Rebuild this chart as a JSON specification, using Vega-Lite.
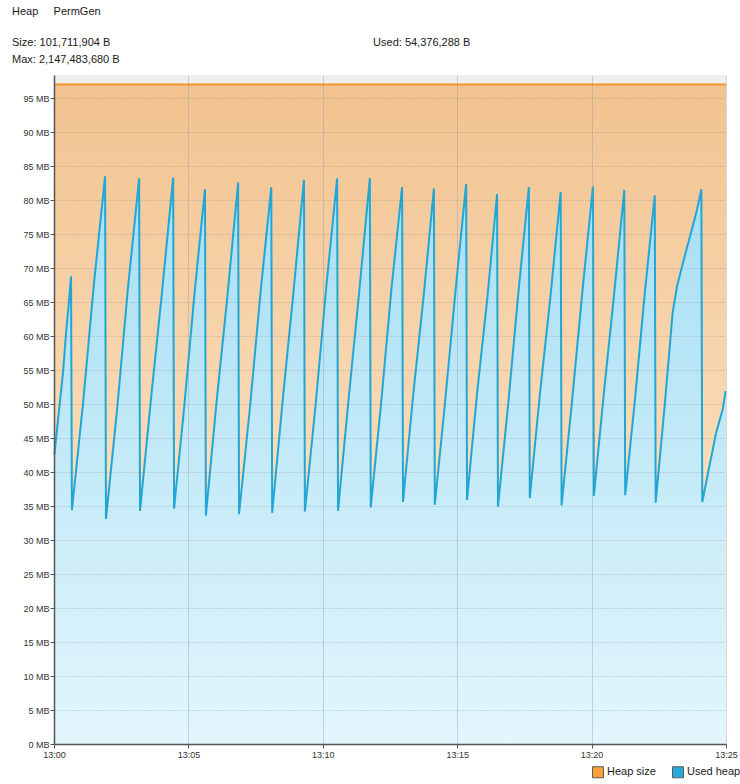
{
  "$schema": "https://vega.github.io/schema/vega-lite/v6.json",
  "background": "white",
  "padding": {"top": 6, "left": 0, "right": 0, "bottom": 0},
  "config": {
    "font": "Liberation Sans",
    "view": {"stroke": null}
  },
  "title": {
    "text": "Heap\u00a0\u00a0\u00a0\u00a0\u00a0PermGen",
    "subtitle": [
      "Size: 101,711,904 B\u00a0\u00a0\u00a0\u00a0\u00a0\u00a0\u00a0\u00a0\u00a0\u00a0\u00a0\u00a0\u00a0\u00a0\u00a0\u00a0\u00a0\u00a0\u00a0\u00a0\u00a0\u00a0\u00a0\u00a0\u00a0\u00a0\u00a0\u00a0\u00a0\u00a0\u00a0\u00a0\u00a0\u00a0\u00a0\u00a0\u00a0\u00a0\u00a0\u00a0\u00a0\u00a0\u00a0\u00a0\u00a0\u00a0\u00a0\u00a0\u00a0\u00a0\u00a0\u00a0\u00a0\u00a0\u00a0\u00a0\u00a0\u00a0\u00a0\u00a0\u00a0\u00a0\u00a0\u00a0\u00a0\u00a0\u00a0\u00a0\u00a0\u00a0\u00a0\u00a0\u00a0\u00a0\u00a0\u00a0\u00a0\u00a0\u00a0\u00a0\u00a0\u00a0\u00a0\u00a0\u00a0\u00a0Used: 54,376,288 B",
      "Max: 2,147,483,680 B"
    ],
    "anchor": "start", "frame": "bounds", "dx": 12, "offset": 10,
    "fontSize": 11, "fontWeight": "normal", "color": "#1a1a1a",
    "subtitleFontSize": 11, "subtitleColor": "#1a1a1a", "subtitleLineHeight": 17, "subtitlePadding": 20, "subtitleFont": "Liberation Sans"
  },
  "datasets": {
    "heap": [
      {"t": "2024-01-01T13:00:00", "mb": 97.0},
      {"t": "2024-01-01T13:25:00", "mb": 97.0}
    ],
    "used": [
      {"t": "2024-01-01T13:00:01", "mb": 42.6}, {"t": "2024-01-01T13:00:13", "mb": 50.2}, {"t": "2024-01-01T13:00:20", "mb": 54.5}, {"t": "2024-01-01T13:00:27", "mb": 60.5}, {"t": "2024-01-01T13:00:32", "mb": 64.0}, {"t": "2024-01-01T13:00:38", "mb": 68.8},
      {"t": "2024-01-01T13:00:40", "mb": 34.4}, {"t": "2024-01-01T13:01:05", "mb": 50.2}, {"t": "2024-01-01T13:01:29", "mb": 67.6}, {"t": "2024-01-01T13:01:54", "mb": 83.5},
      {"t": "2024-01-01T13:01:56", "mb": 33.1}, {"t": "2024-01-01T13:02:21", "mb": 49.3}, {"t": "2024-01-01T13:02:45", "mb": 67.0}, {"t": "2024-01-01T13:03:10", "mb": 83.2},
      {"t": "2024-01-01T13:03:12", "mb": 34.3}, {"t": "2024-01-01T13:03:37", "mb": 51.1}, {"t": "2024-01-01T13:04:01", "mb": 66.4}, {"t": "2024-01-01T13:04:26", "mb": 83.3},
      {"t": "2024-01-01T13:04:28", "mb": 34.6}, {"t": "2024-01-01T13:04:51", "mb": 49.8}, {"t": "2024-01-01T13:05:14", "mb": 66.5}, {"t": "2024-01-01T13:05:37", "mb": 81.6},
      {"t": "2024-01-01T13:05:39", "mb": 33.6}, {"t": "2024-01-01T13:06:03", "mb": 50.4}, {"t": "2024-01-01T13:06:27", "mb": 65.8}, {"t": "2024-01-01T13:06:51", "mb": 82.6},
      {"t": "2024-01-01T13:06:53", "mb": 33.8}, {"t": "2024-01-01T13:07:17", "mb": 49.2}, {"t": "2024-01-01T13:07:41", "mb": 66.4}, {"t": "2024-01-01T13:08:05", "mb": 81.9},
      {"t": "2024-01-01T13:08:07", "mb": 34.0}, {"t": "2024-01-01T13:08:31", "mb": 50.9}, {"t": "2024-01-01T13:08:54", "mb": 66.1}, {"t": "2024-01-01T13:09:18", "mb": 83.0},
      {"t": "2024-01-01T13:09:20", "mb": 34.2}, {"t": "2024-01-01T13:09:44", "mb": 49.9}, {"t": "2024-01-01T13:10:08", "mb": 67.4}, {"t": "2024-01-01T13:10:32", "mb": 83.2},
      {"t": "2024-01-01T13:10:34", "mb": 34.3}, {"t": "2024-01-01T13:10:58", "mb": 51.0}, {"t": "2024-01-01T13:11:21", "mb": 66.3}, {"t": "2024-01-01T13:11:45", "mb": 83.2},
      {"t": "2024-01-01T13:11:47", "mb": 34.8}, {"t": "2024-01-01T13:12:10", "mb": 50.0}, {"t": "2024-01-01T13:12:33", "mb": 66.8}, {"t": "2024-01-01T13:12:57", "mb": 81.9},
      {"t": "2024-01-01T13:12:59", "mb": 35.6}, {"t": "2024-01-01T13:13:22", "mb": 51.5}, {"t": "2024-01-01T13:13:45", "mb": 65.8}, {"t": "2024-01-01T13:14:08", "mb": 81.7},
      {"t": "2024-01-01T13:14:10", "mb": 35.2}, {"t": "2024-01-01T13:14:33", "mb": 50.3}, {"t": "2024-01-01T13:14:57", "mb": 67.2}, {"t": "2024-01-01T13:15:20", "mb": 82.4},
      {"t": "2024-01-01T13:15:22", "mb": 35.9}, {"t": "2024-01-01T13:15:44", "mb": 51.4}, {"t": "2024-01-01T13:16:07", "mb": 65.4}, {"t": "2024-01-01T13:16:29", "mb": 80.9},
      {"t": "2024-01-01T13:16:31", "mb": 34.9}, {"t": "2024-01-01T13:16:54", "mb": 50.1}, {"t": "2024-01-01T13:17:17", "mb": 66.7}, {"t": "2024-01-01T13:17:40", "mb": 81.9},
      {"t": "2024-01-01T13:17:42", "mb": 36.2}, {"t": "2024-01-01T13:18:05", "mb": 51.7}, {"t": "2024-01-01T13:18:28", "mb": 65.7}, {"t": "2024-01-01T13:18:51", "mb": 81.2},
      {"t": "2024-01-01T13:18:53", "mb": 35.1}, {"t": "2024-01-01T13:19:16", "mb": 50.2}, {"t": "2024-01-01T13:19:40", "mb": 66.9}, {"t": "2024-01-01T13:20:03", "mb": 82.0},
      {"t": "2024-01-01T13:20:05", "mb": 36.5}, {"t": "2024-01-01T13:20:28", "mb": 52.0}, {"t": "2024-01-01T13:20:50", "mb": 66.0}, {"t": "2024-01-01T13:21:13", "mb": 81.5},
      {"t": "2024-01-01T13:21:15", "mb": 36.6}, {"t": "2024-01-01T13:21:37", "mb": 50.8}, {"t": "2024-01-01T13:21:59", "mb": 66.5}, {"t": "2024-01-01T13:22:21", "mb": 80.7},
      {"t": "2024-01-01T13:22:23", "mb": 35.5}, {"t": "2024-01-01T13:22:43", "mb": 49.7}, {"t": "2024-01-01T13:23:01", "mb": 63.5}, {"t": "2024-01-01T13:23:11", "mb": 67.4}, {"t": "2024-01-01T13:23:24", "mb": 70.8}, {"t": "2024-01-01T13:23:39", "mb": 74.5}, {"t": "2024-01-01T13:23:54", "mb": 78.2}, {"t": "2024-01-01T13:24:05", "mb": 81.6},
      {"t": "2024-01-01T13:24:07", "mb": 35.6}, {"t": "2024-01-01T13:24:23", "mb": 40.9}, {"t": "2024-01-01T13:24:38", "mb": 45.8}, {"t": "2024-01-01T13:24:53", "mb": 49.3}, {"t": "2024-01-01T13:24:59", "mb": 51.9}
    ]
  },
  "width": 672,
  "height": 669,
  "view": {"fill": "#efefef", "stroke": null},
  "encoding": {
    "x": {
      "field": "t", "type": "temporal",
      "scale": {"nice": false},
      "axis": {
        "title": null, "format": "%H:%M", "tickCount": 5,
        "labelFlush": false, "labelOverlap": false, "labelFontSize": 9, "labelColor": "#333333", "labelPadding": 2,
        "tickSize": 4, "tickColor": "#555555", "domainColor": "#555555", "domainWidth": 1.5,
        "grid": true, "gridColor": "#7f95a5", "gridOpacity": 0.35, "zindex": 1
      }
    },
    "y": {
      "field": "mb", "type": "quantitative",
      "scale": {"domain": [0, 98.4], "nice": false},
      "axis": {
        "title": null, "values": [0, 5, 10, 15, 20, 25, 30, 35, 40, 45, 50, 55, 60, 65, 70, 75, 80, 85, 90, 95],
        "labelExpr": "datum.value + ' MB'", "labelFlush": false, "labelFontSize": 9, "labelColor": "#333333", "labelPadding": 1,
        "tickSize": 4, "tickColor": "#555555", "domainColor": "#555555", "domainWidth": 1.5,
        "grid": true, "gridColor": "#6e6e6e", "gridOpacity": 0.45, "gridDash": [1, 2], "minExtent": 54, "zindex": 1
      }
    }
  },
  "layer": [
    {
      "data": {"name": "heap"},
      "mark": {"type": "area", "line": false, "color": {"gradient": "linear", "x1": 0, "y1": 0, "x2": 0, "y2": 1, "stops": [{"offset": 0, "color": "#f2c390"}, {"offset": 1, "color": "#feeed6"}]}},
      "encoding": {}
    },
    {
      "data": {"name": "used"},
      "mark": {"type": "area", "line": false, "color": {"gradient": "linear", "x1": 0, "y1": 0, "x2": 0, "y2": 1, "stops": [{"offset": 0, "color": "#a6def4"}, {"offset": 1, "color": "#e2f6fc"}]}},
      "encoding": {}
    },
    {
      "data": {"name": "heap"},
      "mark": {"type": "line", "color": "#f39322", "strokeWidth": 2},
      "encoding": {}
    },
    {
      "data": {"name": "used"},
      "mark": {"type": "line", "color": "#21a6d6", "strokeWidth": 2},
      "encoding": {}
    },
    {
      "data": {"name": "heap"},
      "mark": {"type": "square", "filled": true, "opacity": 0, "stroke": "#5a5a5a", "strokeWidth": 1},
      "encoding": {
        "color": {
          "datum": "Used heap", "type": "nominal",
          "scale": {"domain": ["Heap size", "Used heap"], "range": ["#f7a136", "#29a9d9"]},
          "legend": {
            "title": null, "orient": "none", "legendX": 538, "legendY": 691, "direction": "horizontal",
            "symbolType": "square", "symbolSize": 121, "symbolOpacity": 1,
            "labelFontSize": 11, "labelColor": "#1a1a1a", "labelOffset": 3, "columnPadding": 14, "padding": 0,
            "symbolStrokeColor": "#5a5a5a", "symbolStrokeWidth": 1
          }
        }
      }
    }
  ]
}
